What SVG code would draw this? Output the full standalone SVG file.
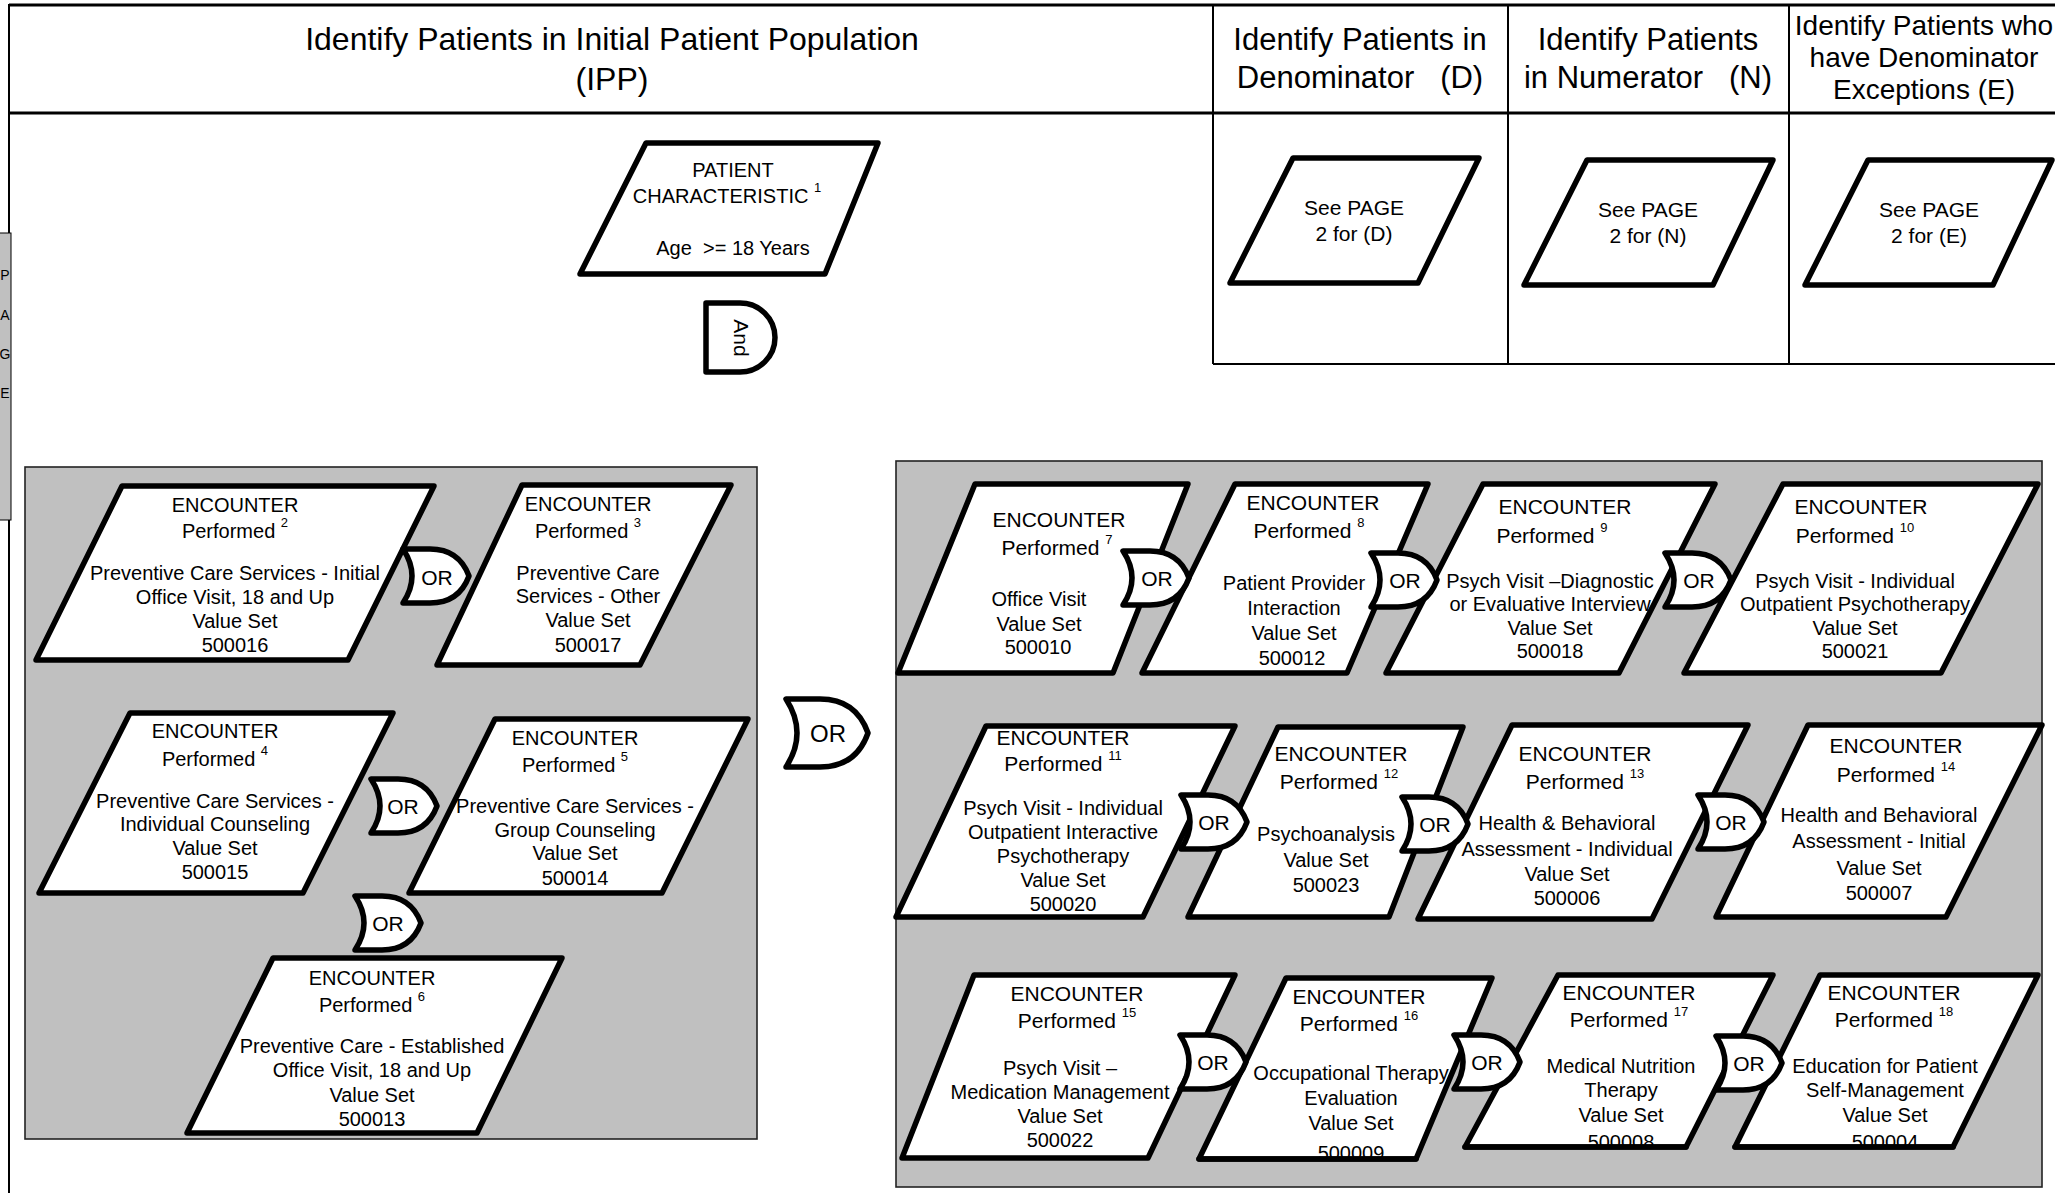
<svg xmlns="http://www.w3.org/2000/svg" width="2055" height="1193" viewBox="0 0 2055 1193">
<defs>
<style>
text{font-family:"Liberation Sans",Arial,Helvetica,sans-serif;fill:#000}
.hd{font-size:31px;text-anchor:middle}
.hde{font-size:28px;text-anchor:middle}
.t20{font-size:20px;text-anchor:middle}
.t21{font-size:21px;text-anchor:middle}
.b{font-size:20px}
.sup{font-size:13px}
.shape{fill:#fff;stroke:#000;stroke-width:5.5;stroke-linejoin:round}
.edge{fill:none;stroke:#000;stroke-width:5.5;stroke-linecap:round}
.grey{fill:#c0c0c0;stroke:#222;stroke-width:1.6}
.rule{fill:none;stroke:#000;stroke-width:2}
.rule2{fill:none;stroke:#000;stroke-width:3}
.or{font-size:21px;text-anchor:middle}
.tab{font-size:14px;text-anchor:middle}
</style>
<path id="org" class="shape" d="M0,0 L27,0 Q56,0 66,27 Q56,54 27,54 L0,54 Q18,27 0,0 Z"/>
</defs>
<rect x="0" y="0" width="2055" height="1193" fill="#fff"/>

<g id="table">
<line class="rule2" x1="9" y1="5" x2="2055" y2="5"/>
<line class="rule2" x1="9" y1="113" x2="2055" y2="113"/>
<line class="rule" x1="9" y1="4" x2="9" y2="1193"/>
<line class="rule" x1="1213" y1="5" x2="1213" y2="364"/>
<line class="rule" x1="1508" y1="5" x2="1508" y2="364"/>
<line class="rule" x1="1789" y1="5" x2="1789" y2="364"/>
<line class="rule" x1="1213" y1="364" x2="2055" y2="364"/>
<text class="hd" style="font-size:32px"><tspan x="612" y="50">Identify Patients in Initial Patient Population</tspan><tspan x="612" y="90">(IPP)</tspan></text>
<text class="hd" xml:space="preserve"><tspan x="1360" y="50">Identify Patients in</tspan><tspan x="1360" y="88">Denominator   (D)</tspan></text>
<text class="hd" xml:space="preserve"><tspan x="1648" y="50">Identify Patients</tspan><tspan x="1648" y="88">in Numerator   (N)</tspan></text>
<text class="hde"><tspan x="1924" y="35">Identify Patients who</tspan><tspan x="1924" y="67">have Denominator</tspan><tspan x="1924" y="99">Exceptions (E)</tspan></text>
</g>

<g id="page-tab">
<rect x="-2" y="233" width="13" height="287" fill="#c0c0c0" stroke="#000" stroke-width="1"/>
<text class="tab"><tspan x="5" y="280">P</tspan><tspan x="5" y="320">A</tspan><tspan x="5" y="359">G</tspan><tspan x="5" y="398">E</tspan></text>
</g>

<g id="group-left"><rect class="grey" x="25" y="467" width="732" height="672"/></g>
<g id="group-right"><rect class="grey" x="896" y="461" width="1146" height="726"/></g>

<g id="n1" class="node">
<polygon class="shape" points="646,143 878,143 825,274 580,274"/>
<text class="t20" xml:space="preserve"><tspan x="733" y="177">PATIENT</tspan><tspan x="727" y="203">CHARACTERISTIC <tspan class="sup" dy="-11">1</tspan></tspan><tspan x="733" y="255">Age  &gt;= 18 Years</tspan></text>
</g>

<g id="and1" class="node">
<path class="shape" d="M706,303 L740,303 A35,34.5 0 0 1 740,372 L706,372 Z"/>
<text class="t21" transform="translate(741,338) rotate(90)" y="7">And</text>
</g>

<g id="nD" class="node">
<polygon class="shape" points="1293,158 1479,158 1418,283 1230,283"/>
<text class="t21"><tspan x="1354" y="215">See PAGE</tspan><tspan x="1354" y="241">2 for (D)</tspan></text>
</g>
<g id="nN" class="node">
<polygon class="shape" points="1587,160 1773,160 1713,285 1524,285"/>
<text class="t21"><tspan x="1648" y="217">See PAGE</tspan><tspan x="1648" y="243">2 for (N)</tspan></text>
</g>
<g id="nE" class="node">
<polygon class="shape" points="1868,160 2052,160 1993,285 1805,285"/>
<text class="t21"><tspan x="1929" y="217">See PAGE</tspan><tspan x="1929" y="243">2 for (E)</tspan></text>
</g>

<g id="n2" class="node">
<polygon class="shape" points="122,486 434,486 348,660 36,660"/>
<text class="t20"><tspan x="235" y="512">ENCOUNTER</tspan><tspan x="235" y="538">Performed <tspan class="sup" dy="-11">2</tspan></tspan><tspan x="235" y="580">Preventive Care Services - Initial</tspan><tspan x="235" y="604">Office Visit, 18 and Up</tspan><tspan x="235" y="628">Value Set</tspan><tspan x="235" y="652">500016</tspan></text>
</g>
<g id="n3" class="node">
<polygon class="shape" points="522,485 731,485 640,665 437,665"/>
<text class="t20"><tspan x="588" y="511">ENCOUNTER</tspan><tspan x="588" y="538">Performed <tspan class="sup" dy="-11">3</tspan></tspan><tspan x="588" y="580">Preventive Care</tspan><tspan x="588" y="603">Services - Other</tspan><tspan x="588" y="627">Value Set</tspan><tspan x="588" y="652">500017</tspan></text>
</g>
<g id="n4" class="node">
<polygon class="shape" points="130,713 393,713 303,893 39,893"/>
<text class="t20"><tspan x="215" y="738">ENCOUNTER</tspan><tspan x="215" y="766">Performed <tspan class="sup" dy="-11">4</tspan></tspan><tspan x="215" y="808">Preventive Care Services -</tspan><tspan x="215" y="831">Individual Counseling</tspan><tspan x="215" y="855">Value Set</tspan><tspan x="215" y="879">500015</tspan></text>
</g>
<g id="n5" class="node">
<polygon class="shape" points="495,719 748,719 662,893 409,893"/>
<text class="t20"><tspan x="575" y="745">ENCOUNTER</tspan><tspan x="575" y="772">Performed <tspan class="sup" dy="-11">5</tspan></tspan><tspan x="575" y="813">Preventive Care Services -</tspan><tspan x="575" y="837">Group Counseling</tspan><tspan x="575" y="860">Value Set</tspan><tspan x="575" y="885">500014</tspan></text>
</g>
<g id="n6" class="node">
<polygon class="shape" points="273,958 562,958 477,1133 187,1133"/>
<text class="t20"><tspan x="372" y="985">ENCOUNTER</tspan><tspan x="372" y="1012">Performed <tspan class="sup" dy="-11">6</tspan></tspan><tspan x="372" y="1053">Preventive Care - Established</tspan><tspan x="372" y="1077">Office Visit, 18 and Up</tspan><tspan x="372" y="1102">Value Set</tspan><tspan x="372" y="1126">500013</tspan></text>
</g>

<g id="n7" class="node">
<polygon class="shape" points="975,484 1188,484 1113,673 898,673"/>
<text class="t21"><tspan x="1059" y="527">ENCOUNTER</tspan><tspan x="1057" y="555">Performed <tspan class="sup" dy="-11">7</tspan></tspan><tspan class="b" x="1039" y="606">Office Visit</tspan><tspan class="b" x="1039" y="631">Value Set</tspan><tspan class="b" x="1038" y="654">500010</tspan></text>
</g>
<g id="n8" class="node">
<polygon class="shape" points="1235,484 1428,484 1347,673 1142,673"/>
<text class="t21"><tspan x="1313" y="510">ENCOUNTER</tspan><tspan x="1309" y="538">Performed <tspan class="sup" dy="-11">8</tspan></tspan><tspan class="b" x="1294" y="590">Patient Provider</tspan><tspan class="b" x="1294" y="615">Interaction</tspan><tspan class="b" x="1294" y="640">Value Set</tspan><tspan class="b" x="1292" y="665">500012</tspan></text>
</g>
<g id="n9" class="node">
<polygon class="shape" points="1483,484 1715,484 1619,673 1386,673"/>
<text class="t21"><tspan x="1565" y="514">ENCOUNTER</tspan><tspan x="1552" y="543">Performed <tspan class="sup" dy="-11">9</tspan></tspan><tspan class="b" x="1550" y="588">Psych Visit –Diagnostic</tspan><tspan class="b" x="1550" y="611">or Evaluative Interview</tspan><tspan class="b" x="1550" y="635">Value Set</tspan><tspan class="b" x="1550" y="658">500018</tspan></text>
</g>
<g id="n10" class="node">
<polygon class="shape" points="1783,484 2038,484 1941,673 1684,673"/>
<text class="t21"><tspan x="1861" y="514">ENCOUNTER</tspan><tspan x="1855" y="543">Performed <tspan class="sup" dy="-11">10</tspan></tspan><tspan class="b" x="1855" y="588">Psych Visit - Individual</tspan><tspan class="b" x="1855" y="611">Outpatient Psychotherapy</tspan><tspan class="b" x="1855" y="635">Value Set</tspan><tspan class="b" x="1855" y="658">500021</tspan></text>
</g>

<g id="n11" class="node">
<polygon class="shape" points="986,726 1235,726 1143,917 896,917"/>
<text class="t21"><tspan x="1063" y="745">ENCOUNTER</tspan><tspan x="1063" y="771">Performed <tspan class="sup" dy="-11">11</tspan></tspan><tspan class="b" x="1063" y="815">Psych Visit - Individual</tspan><tspan class="b" x="1063" y="839">Outpatient Interactive</tspan><tspan class="b" x="1063" y="863">Psychotherapy</tspan><tspan class="b" x="1063" y="887">Value Set</tspan><tspan class="b" x="1063" y="911">500020</tspan></text>
</g>
<g id="n12" class="node">
<polygon class="shape" points="1278,727 1463,727 1389,917 1188,917"/>
<text class="t21"><tspan x="1341" y="761">ENCOUNTER</tspan><tspan x="1339" y="789">Performed <tspan class="sup" dy="-11">12</tspan></tspan><tspan class="b" x="1326" y="841">Psychoanalysis</tspan><tspan class="b" x="1326" y="867">Value Set</tspan><tspan class="b" x="1326" y="892">500023</tspan></text>
</g>
<g id="n13" class="node">
<polygon class="shape" points="1512,725 1748,725 1652,919 1418,919"/>
<text class="t21"><tspan x="1585" y="761">ENCOUNTER</tspan><tspan x="1585" y="789">Performed <tspan class="sup" dy="-11">13</tspan></tspan><tspan class="b" x="1567" y="830">Health &amp; Behavioral</tspan><tspan class="b" x="1567" y="856">Assessment - Individual</tspan><tspan class="b" x="1567" y="881">Value Set</tspan><tspan class="b" x="1567" y="905">500006</tspan></text>
</g>
<g id="n14" class="node">
<polygon class="shape" points="1808,725 2042,725 1946,917 1716,917"/>
<text class="t21"><tspan x="1896" y="753">ENCOUNTER</tspan><tspan x="1896" y="782">Performed <tspan class="sup" dy="-11">14</tspan></tspan><tspan class="b" x="1879" y="822">Health and Behavioral</tspan><tspan class="b" x="1879" y="848">Assessment - Initial</tspan><tspan class="b" x="1879" y="875">Value Set</tspan><tspan class="b" x="1879" y="900">500007</tspan></text>
</g>

<g id="n15" class="node">
<polygon class="shape" points="974,975 1235,975 1148,1158 902,1158"/>
<text class="t21"><tspan x="1077" y="1001">ENCOUNTER</tspan><tspan x="1077" y="1028">Performed <tspan class="sup" dy="-11">15</tspan></tspan><tspan class="b" x="1060" y="1075">Psych Visit –</tspan><tspan class="b" x="1060" y="1099">Medication Management</tspan><tspan class="b" x="1060" y="1123">Value Set</tspan><tspan class="b" x="1060" y="1147">500022</tspan></text>
</g>
<g id="n16" class="node">
<polygon class="shape" points="1286,978 1492,978 1416,1159 1199,1159"/>
<text class="t21"><tspan x="1359" y="1004">ENCOUNTER</tspan><tspan x="1359" y="1031">Performed <tspan class="sup" dy="-11">16</tspan></tspan><tspan class="b" x="1351" y="1080">Occupational Therapy</tspan><tspan class="b" x="1351" y="1105">Evaluation</tspan><tspan class="b" x="1351" y="1130">Value Set</tspan><tspan class="b" x="1351" y="1160">500009</tspan></text>
<line class="edge" x1="1199" y1="1159" x2="1416" y2="1159"/>
</g>
<g id="n17" class="node">
<polygon class="shape" points="1558,975 1773,975 1686,1147 1465,1147"/>
<text class="t21"><tspan x="1629" y="1000">ENCOUNTER</tspan><tspan x="1629" y="1027">Performed <tspan class="sup" dy="-11">17</tspan></tspan><tspan class="b" x="1621" y="1073">Medical Nutrition</tspan><tspan class="b" x="1621" y="1097">Therapy</tspan><tspan class="b" x="1621" y="1122">Value Set</tspan><tspan class="b" x="1621" y="1149">500008</tspan></text>
<line class="edge" x1="1465" y1="1147" x2="1686" y2="1147"/>
</g>
<g id="n18" class="node">
<polygon class="shape" points="1820,975 2038,975 1953,1147 1735,1147"/>
<text class="t21"><tspan x="1894" y="1000">ENCOUNTER</tspan><tspan x="1894" y="1027">Performed <tspan class="sup" dy="-11">18</tspan></tspan><tspan class="b" x="1885" y="1073">Education for Patient</tspan><tspan class="b" x="1885" y="1097">Self-Management</tspan><tspan class="b" x="1885" y="1122">Value Set</tspan><tspan class="b" x="1885" y="1149">500004</tspan></text>
<line class="edge" x1="1735" y1="1147" x2="1953" y2="1147"/>
</g>

<g id="gates">
<g id="or1"><use href="#org" x="403" y="549"/><text class="or" x="437" y="585">OR</text></g>
<g id="or2"><use href="#org" x="371" y="779"/><text class="or" x="403" y="814">OR</text></g>
<g id="or3"><use href="#org" x="355" y="896"/><text class="or" x="388" y="931">OR</text></g>
<g id="or4"><path class="shape" d="M786,699 L820,699 Q856,699 868,733 Q856,767 820,767 L786,767 Q808,733 786,699 Z"/><text class="or" style="font-size:24px" x="828" y="742">OR</text></g>
<g id="or5"><use href="#org" x="1123" y="551"/><text class="or" x="1157" y="586">OR</text></g>
<g id="or6"><use href="#org" x="1371" y="553"/><text class="or" x="1405" y="588">OR</text></g>
<g id="or7"><use href="#org" x="1665" y="553"/><text class="or" x="1699" y="588">OR</text></g>
<g id="or8"><use href="#org" x="1181" y="795"/><text class="or" x="1214" y="830">OR</text></g>
<g id="or9"><use href="#org" x="1402" y="797"/><text class="or" x="1435" y="832">OR</text></g>
<g id="or10"><use href="#org" x="1698" y="795"/><text class="or" x="1731" y="830">OR</text></g>
<g id="or11"><use href="#org" x="1180" y="1035"/><text class="or" x="1213" y="1070">OR</text></g>
<g id="or12"><use href="#org" x="1454" y="1035"/><text class="or" x="1487" y="1070">OR</text></g>
<g id="or13"><use href="#org" x="1716" y="1036"/><text class="or" x="1749" y="1071">OR</text></g>
</g>
<g id="connectors"></g>
</svg>
